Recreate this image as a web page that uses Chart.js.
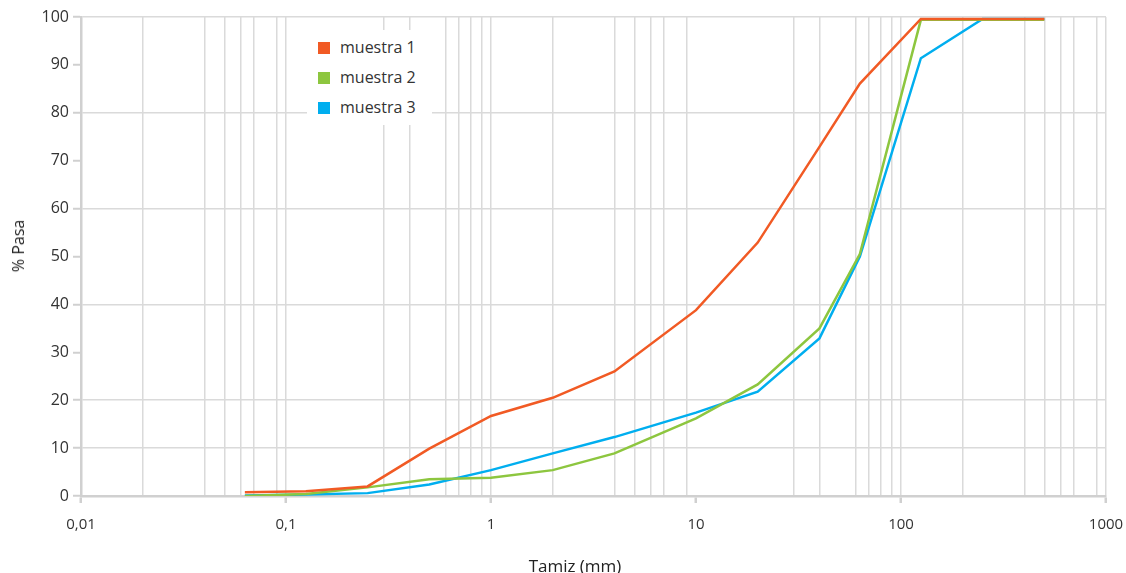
<!DOCTYPE html>
<html>
<head>
<meta charset="utf-8">
<title>Curva granulométrica</title>
<script src="https://cdn.jsdelivr.net/npm/chart.js@4.4.0/dist/chart.umd.min.js"></script>
<style>
  html, body { margin: 0; padding: 0; background: #fff; overflow: hidden; }
  #wrap { position: relative; width: 1126px; height: 573px; overflow: hidden; font-family: "Open Sans", sans-serif; }
  #grafico { position: absolute; left: 0; top: 0; }
  #leyenda {
    position: absolute; left: 307px; top: 30px; width: 125px; height: 95px;
    background: #fff; font-size: 16px; color: #333;
  }
  .item { position: absolute; left: 11px; height: 20px; line-height: 20px; white-space: nowrap; }
  .item span { display: inline-block; width: 12px; height: 12px; margin-right: 10px; vertical-align: -1px; }
  #tituloX {
    position: absolute; left: 0; width: 1150px; top: 556px; height: 20px; line-height: 20px;
    text-align: center; font-size: 17px; color: #222;
  }
  #tituloY {
    position: absolute; left: 18px; top: 246px; white-space: nowrap;
    transform: translate(-50%, -50%) rotate(-90deg);
    font-size: 16px; font-weight: 500; color: #222; line-height: 20px;
  }
</style>
</head>
<body>
<div id="wrap">
  <canvas id="grafico" width="1146" height="573"></canvas>
  <div id="leyenda"></div>
  <div id="tituloX">Tamiz (mm)</div>
  <div id="tituloY">% Pasa</div>
</div>
<script>
// tamaño de tamiz (mm) y % que pasa
const tamices = [0.063, 0.125, 0.25, 0.5, 1, 2, 4, 10, 20, 40, 63, 125, 250, 500];
const muestra1 = [0.8, 1.0, 2.0, 9.9, 16.7, 20.5, 26.0, 38.8, 52.9, 72.9, 86.1, 99.6, 99.6, 99.6];
const muestra2 = [0.0, 0.4, 1.8, 3.5, 3.8, 5.4, 8.9, 16.2, 23.3, 35.0, 50.5, 99.4, 99.4, 99.4];
const muestra3 = [0.1, 0.3, 0.6, 2.4, 5.4, 8.9, 12.3, 17.4, 21.8, 32.9, 50.0, 91.4, 99.6, 99.6];

const nombres = ['muestra 1', 'muestra 2', 'muestra 3'];
const colores = ['#f15a24', '#8dc63f', '#00aeef'];

// ejes
const decadas = [0.01, 0.1, 1, 10, 100, 1000];
const etiquetasX = ['0,01', '0,1', '1', '10', '100', '1000'];
const lineasX = [0.02, 0.04, 0.05, 0.06, 0.07, 0.09, 0.1,
  0.3, 0.4, 0.6, 0.7, 0.8, 0.9, 1,
  2, 4, 5, 6, 7, 9,
  30, 40, 60, 70, 80, 90, 100,
  200, 400, 500, 600, 700, 900, 1000];
const lineasY = [0, 10, 20, 40, 60, 80, 100];

const gris = '#dadada';
const grisEje = '#d0d0d0';
const fuente = '"Open Sans", sans-serif';

const series = [muestra1, muestra2, muestra3];

const ctx = document.getElementById('grafico').getContext('2d');

const chart = new Chart(ctx, {
  type: 'line',
  data: {
    datasets: series.map((s, i) => ({
      label: nombres[i],
      data: tamices.map((t, j) => ({ x: t, y: s[j] })),
      borderColor: colores[i],
      backgroundColor: colores[i],
      borderWidth: 2.5,
      pointRadius: 0,
      tension: 0,
      fill: false
    }))
  },
  options: {
    responsive: false,
    animation: false,
    devicePixelRatio: 1,
    layout: { padding: { top: 17, right: 40, bottom: 0, left: 0 } },
    plugins: {
      legend: { display: false },
      tooltip: { enabled: false }
    },
    scales: {
      x: {
        type: 'logarithmic',
        min: 0.01,
        max: 1000,
        afterBuildTicks: (scale) => {
          const vals = Array.from(new Set(decadas.concat(lineasX))).sort((a, b) => a - b);
          scale.ticks = vals.map(v => ({ value: v }));
        },
        afterFit: (scale) => { scale.height = 77; },
        border: { color: grisEje, width: 2.5 },
        grid: {
          color: (c) => c.tick && lineasX.includes(c.tick.value) ? gris : 'rgba(0,0,0,0)',
          lineWidth: 1.5,
          tickLength: 7,
          tickWidth: 2.5,
          tickColor: (c) => c.tick && decadas.includes(c.tick.value) ? grisEje : 'rgba(0,0,0,0)'
        },
        ticks: {
          autoSkip: false,
          maxRotation: 0,
          padding: 13,
          color: '#333',
          font: { family: fuente, size: 15 },
          callback: (v) => {
            const k = decadas.indexOf(v);
            return k >= 0 ? etiquetasX[k] : '';
          }
        }
      },
      y: {
        min: 0,
        max: 100,
        afterFit: (scale) => { scale.width = 81; },
        border: { color: grisEje, width: 2.5 },
        grid: {
          color: (c) => c.tick && lineasY.includes(c.tick.value) ? gris : 'rgba(0,0,0,0)',
          lineWidth: 1.5,
          tickLength: 8,
          tickWidth: 2,
          tickColor: grisEje
        },
        ticks: {
          stepSize: 10,
          padding: 4,
          color: '#333',
          font: { family: fuente, size: 16 }
        }
      }
    }
  }
});

// leyenda sobre el área del gráfico
const leyenda = document.getElementById('leyenda');
nombres.forEach((n, i) => {
  const d = document.createElement('div');
  d.className = 'item';
  d.style.top = (7 + i * 30) + 'px';
  d.innerHTML = '<span style="background:' + colores[i] + '"></span>' + n;
  leyenda.appendChild(d);
});
</script>
</body>
</html>
